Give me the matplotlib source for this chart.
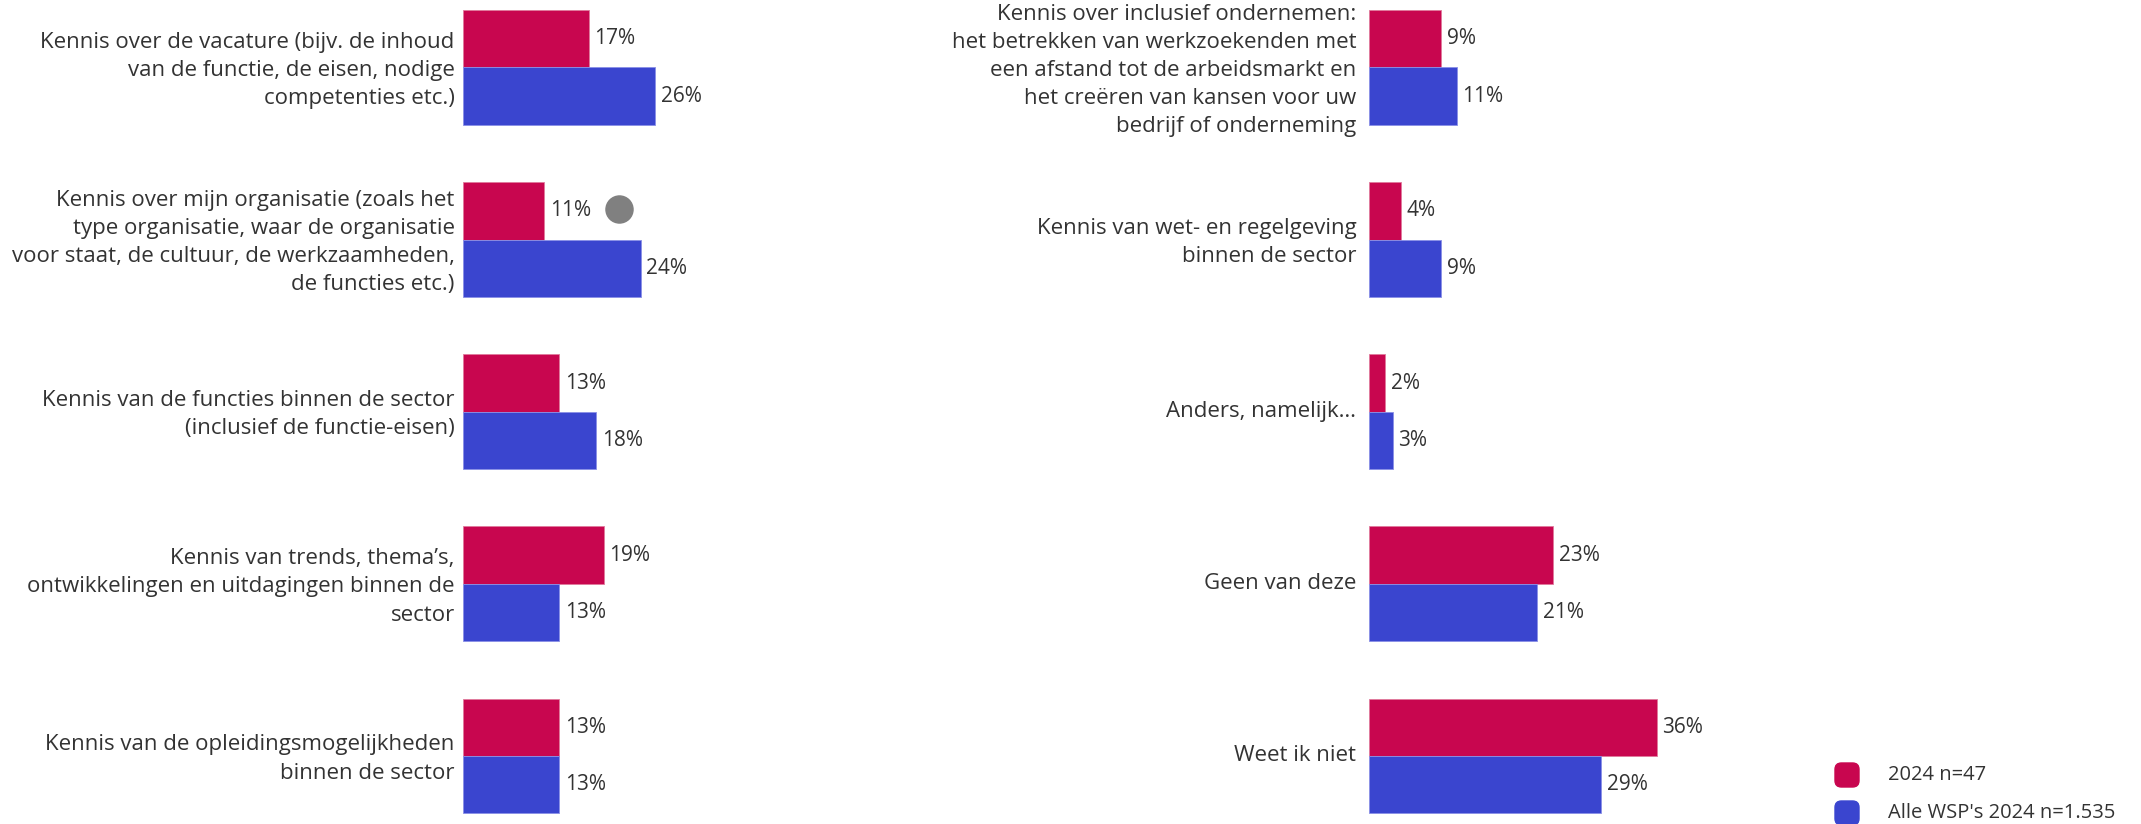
import matplotlib.pyplot as plt
import matplotlib.transforms as mtransforms
from matplotlib.patches import FancyBboxPatch
import numpy as np

plt.rcParams['font.family'] = ['Open Sans', 'DejaVu Sans']

# data
links_labels = [
    "Kennis over de vacature (bijv. de inhoud\nvan de functie, de eisen, nodige\ncompetenties etc.)",
    "Kennis over mijn organisatie (zoals het\ntype organisatie, waar de organisatie\nvoor staat, de cultuur, de werkzaamheden,\nde functies etc.)",
    "Kennis van de functies binnen de sector\n(inclusief de functie-eisen)",
    "Kennis van trends, thema’s,\nontwikkelingen en uitdagingen binnen de\nsector",
    "Kennis van de opleidingsmogelijkheden\nbinnen de sector",
]
links_2024 = [17, 11, 13, 19, 13]
links_alle = [26, 24, 18, 13, 13]
links_sign = [False, True, False, False, False]

rechts_labels = [
    "Kennis over inclusief ondernemen:\nhet betrekken van werkzoekenden met\neen afstand tot de arbeidsmarkt en\nhet creëren van kansen voor uw\nbedrijf of onderneming",
    "Kennis van wet- en regelgeving\nbinnen de sector",
    "Anders, namelijk…",
    "Geen van deze",
    "Weet ik niet",
]
rechts_2024 = [9, 4, 2, 23, 36]
rechts_alle = [11, 9, 3, 21, 29]
rechts_sign = [False, False, False, False, False]

series = ["2024 n=47", "Alle WSP's 2024 n=1.535"]
rood = '#C8064F'
blauw = '#3A45CF'
tekst = '#333333'

W, H = 2141, 824
fig = plt.figure(figsize=(W / 100, H / 100), dpi=100)

def paneel(x0, pxper, labels, v1, v2, sign, pad):
    breedte = 40 * pxper
    ax = fig.add_axes([x0 / W, 0, breedte / W, 1])
    y = np.arange(len(labels))
    h = 0.333
    b1 = ax.barh(y - h / 2, v1, h, color=rood, edgecolor='#e07a9c', linewidth=0.6)
    b2 = ax.barh(y + h / 2, v2, h, color=blauw, edgecolor='#8a90e6', linewidth=0.6)
    ax.bar_label(b1, labels=[f"{v}%" for v in v1], padding=4, fontsize=15, color=tekst)
    ax.bar_label(b2, labels=[f"{v}%" for v in v2], padding=4, fontsize=15, color=tekst)
    for i, s in enumerate(sign):
        if s:
            ax.scatter(v1[i] + 75 / pxper, y[i] - h / 2 - 0.01, s=380, color='#808080', zorder=3)
    ax.set_xlim(0, 40)
    ax.set_ylim(4.396, -0.392)
    ax.set_yticks(y)
    ax.set_yticklabels(labels, fontsize=16, color=tekst, ha='right', linespacing=1.45)
    ax.tick_params(axis='y', length=0, pad=pad)
    schuif = mtransforms.ScaledTranslation(0, 3 / 100, fig.dpi_scale_trans)
    for lab in ax.get_yticklabels():
        lab.set_transform(lab.get_transform() + schuif)
    ax.set_xticks([])
    for sp in ax.spines.values():
        sp.set_visible(False)
    ax.patch.set_alpha(0)
    return ax

paneel(463, 7.4, links_labels, links_2024, links_alle, links_sign, 6)
paneel(1369, 8.0, rechts_labels, rechts_2024, rechts_alle, rechts_sign, 9)

# legenda
for kleur, naam, yc in zip([rood, blauw], series, [775, 813]):
    fig.patches.append(FancyBboxPatch(((1835) / W, (H - yc - 12) / H), 24 / W, 24 / H,
                                      boxstyle="round,pad=0,rounding_size=0.003",
                                      transform=fig.transFigure, color=kleur,
                                      mutation_aspect=W / H))
    fig.text(1888 / W, (H - yc) / H, naam, fontsize=14.5, color=tekst, va='center')

fig.savefig('out.png', dpi=100)
